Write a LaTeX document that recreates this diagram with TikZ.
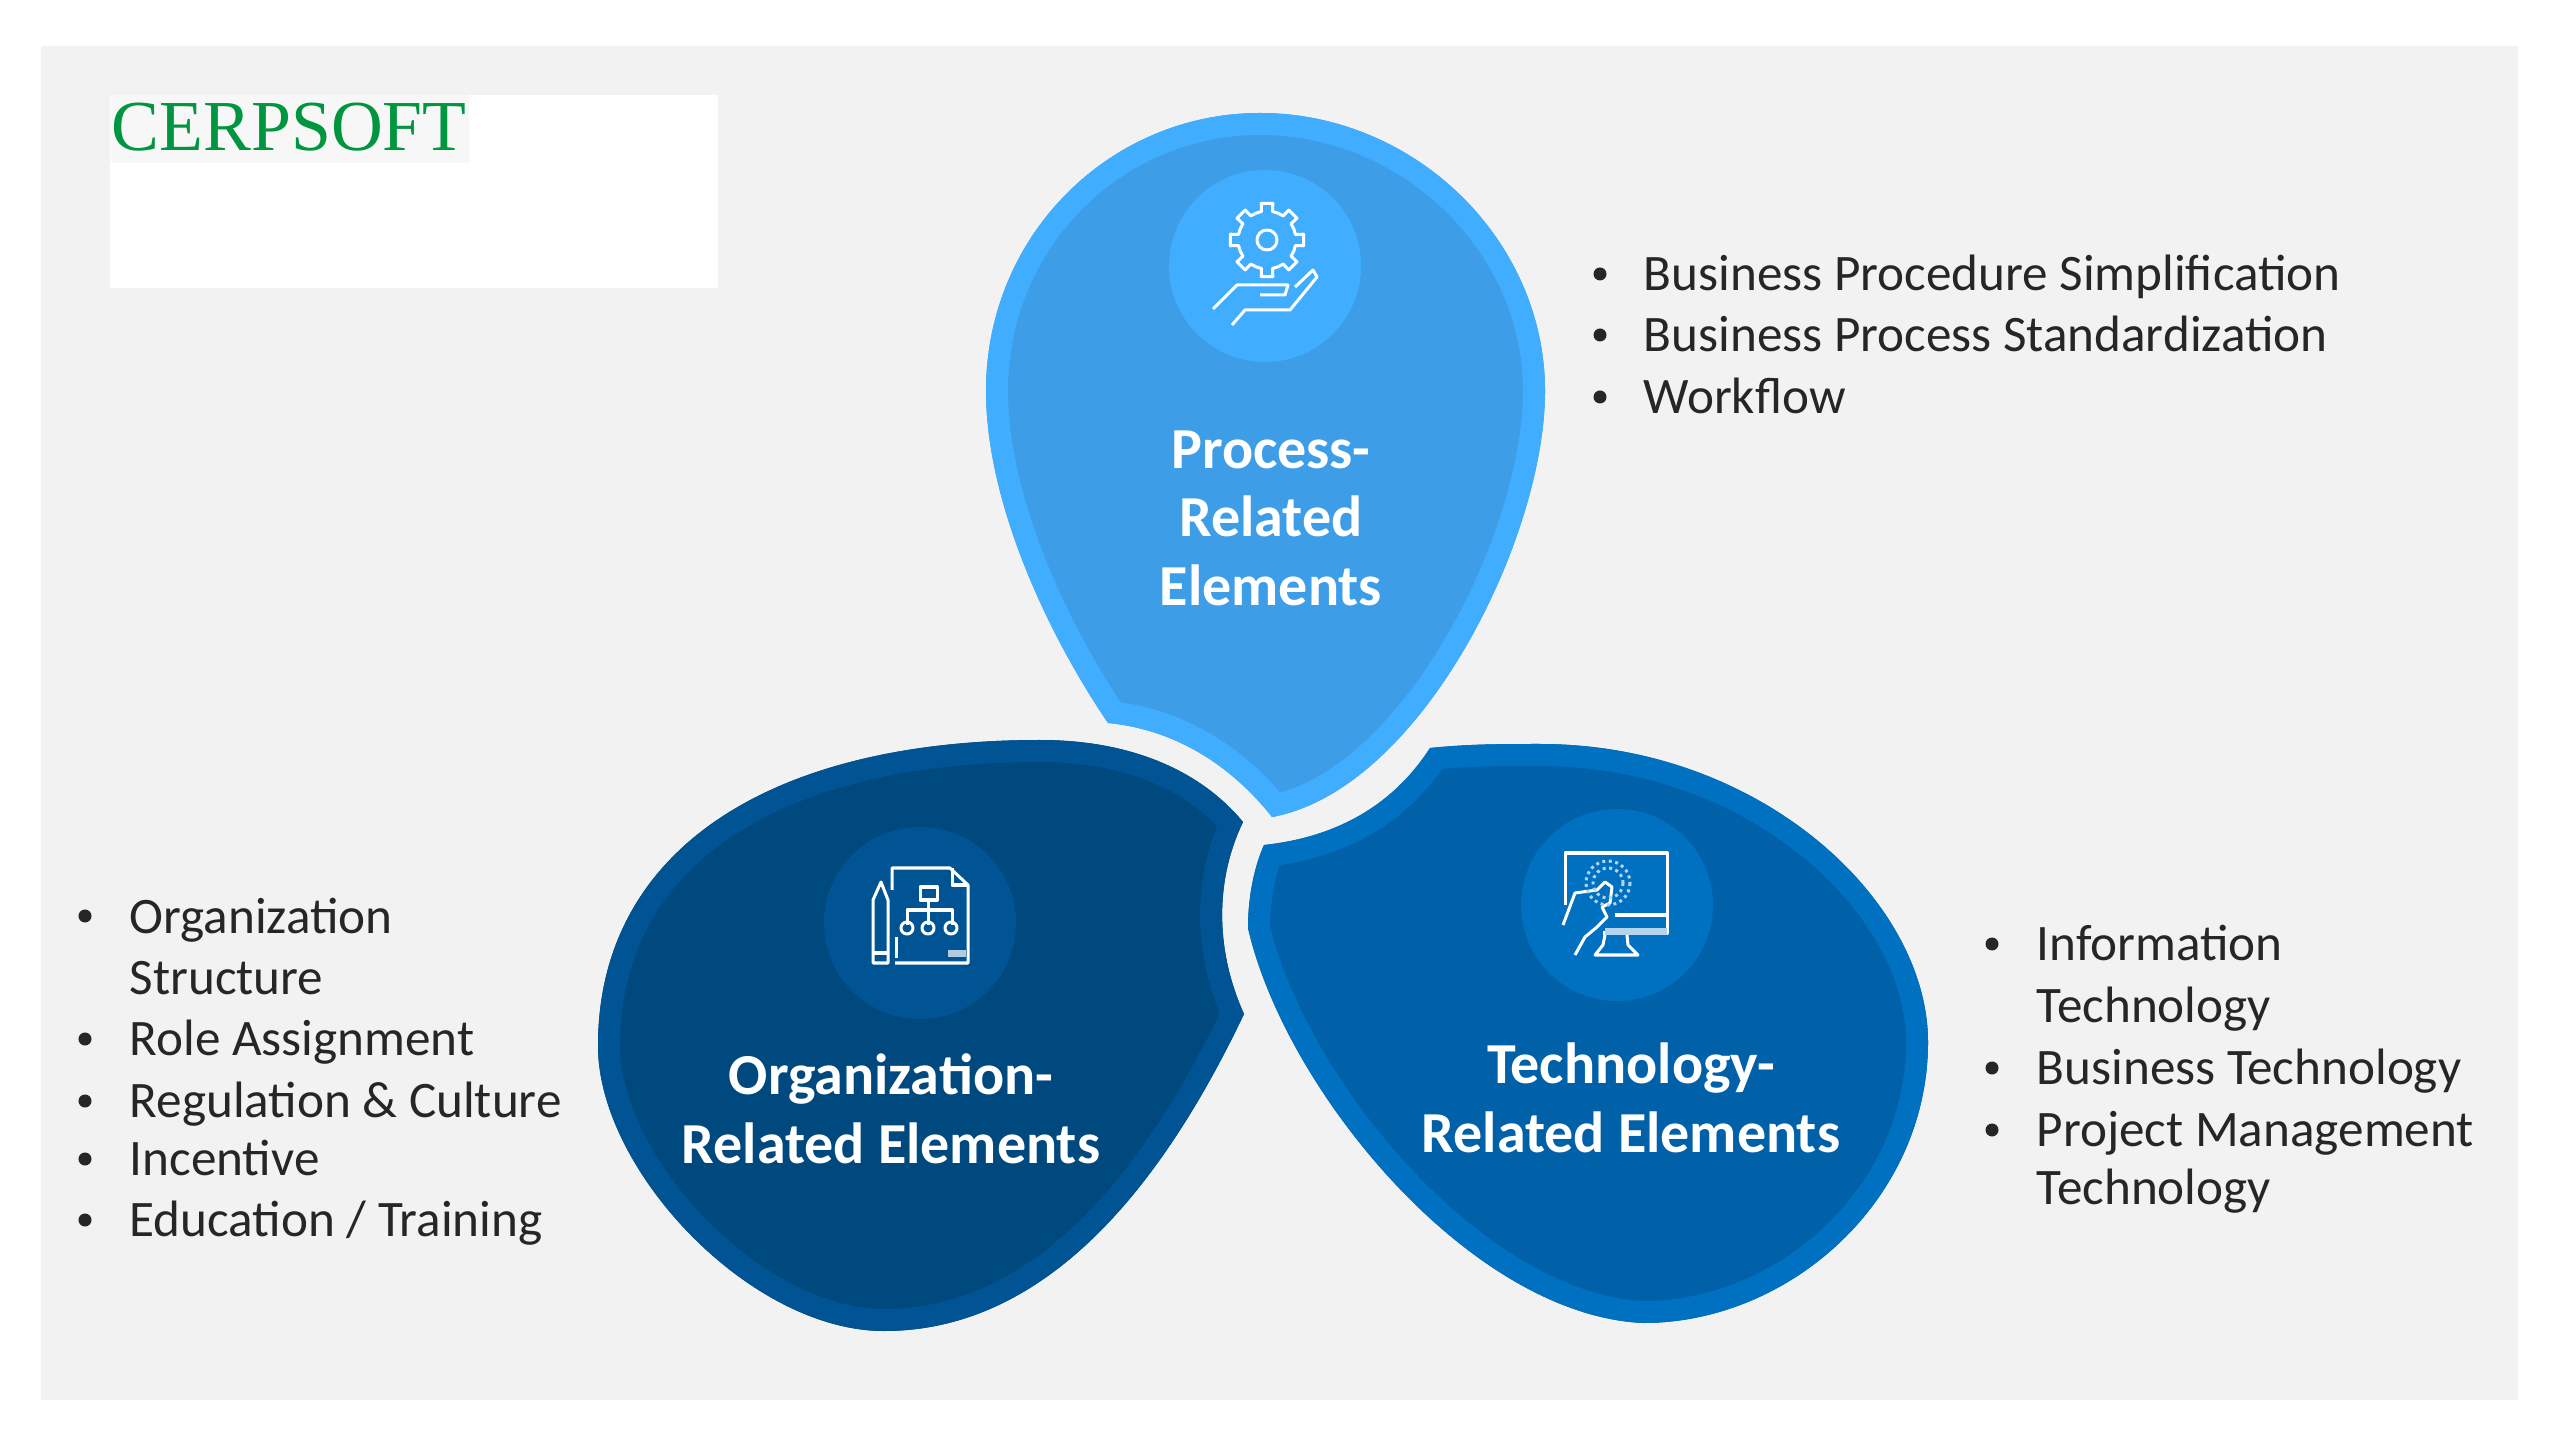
\documentclass[tikz,border=0pt]{standalone}
\usepackage{fontspec}
\setmainfont{Carlito}
\newfontfamily\logofont{Liberation Serif}
\usepackage{xcolor}
\usetikzlibrary{positioning}
\definecolor{panelgray}{HTML}{F2F2F2}
\definecolor{logogray}{HTML}{F7F7F7}
\definecolor{logogreen}{HTML}{009640}
\definecolor{ink}{HTML}{262626}
\definecolor{procrim}{HTML}{41ADFF}
\definecolor{procfill}{HTML}{3D9DE6}
\definecolor{orgrim}{HTML}{005494}
\definecolor{orgfill}{HTML}{00497F}
\definecolor{techrim}{HTML}{0070C0}
\definecolor{techfill}{HTML}{0060A8}
\newcommand{\pathproc}{(1108,723) .. controls (1045,630) and (986,500) .. (986,391)
  .. controls (986,235) and (1110,113) .. (1260,113)
  .. controls (1415,113) and (1545,240) .. (1545,391)
  .. controls (1545,540) and (1420,790) .. (1272,817)
  .. controls (1235,770) and (1180,730) .. (1108,723) -- cycle}
\newcommand{\pathorg}{(1243,822) .. controls (1215,880) and (1215,950) .. (1244,1014)
  .. controls (1165,1180) and (1050,1331) .. (884,1331)
  .. controls (750,1331) and (598,1170) .. (598,1046)
  .. controls (598,850) and (770,740) .. (1040,740)
  .. controls (1130,740) and (1200,770) .. (1243,822) -- cycle}
\newcommand{\pathtech}{(1430,748) .. controls (1470,744) and (1500,744) .. (1540,744)
  .. controls (1760,744) and (1928,900) .. (1928,1042)
  .. controls (1928,1200) and (1790,1323) .. (1643,1323)
  .. controls (1470,1315) and (1285,1090) .. (1248,928)
  .. controls (1248,895) and (1255,865) .. (1264,845)
  .. controls (1330,838) and (1390,810) .. (1430,748) -- cycle}
\newcommand{\drawpetal}[3]{%
  \fill[#2] #3;
  \begin{scope}
    \clip #3;
    \draw[#1, line width=0.44cm, line join=round] #3;
  \end{scope}}

\begin{document}
\begin{tikzpicture}[
    x=0.01cm, y=-0.01cm,
    disc/.style={circle, minimum size=1.92cm, inner sep=0pt},
    head/.style={align=center, text=white, font=\fontsize{16.5}{19.5}\selectfont\bfseries, inner sep=0pt},
    entry/.style={anchor=base west, text=ink, font=\fontsize{14.55}{17}\selectfont, inner sep=0pt},
    dot/.style={circle, fill=ink, minimum size=0.13cm, inner sep=0pt},
    iconline/.style={draw=white, line width=0.03cm, line join=round},
    iconsoft/.style={draw=white!70!techrim, line width=0.03cm}
  ]
  \path[use as bounding box] (0,0) rectangle (2560,1440);
  \fill[panelgray] (41,46) rectangle (2518,1400);
  % logo
  \fill[white] (110,95) rectangle (718,288);
  \fill[logogray] (111,95) rectangle (469,163);
  \node[anchor=base west, inner sep=0pt, text=logogreen, font=\logofont\fontsize{20.4}{22}\selectfont] (logo) at (111,151) {CERPSOFT};
  % petals
  \drawpetal{procrim}{procfill}{\pathproc}
  \drawpetal{orgrim}{orgfill}{\pathorg}
  \drawpetal{techrim}{techfill}{\pathtech}
  \node[disc, fill=procrim] (discproc) at (1265,266) {};
  \node[disc, fill=orgrim] (discorg) at (920,923) {};
  \node[disc, fill=techrim] (disctech) at (1617,905) {};
  \node[head] (headproc) at (1271,518) {Process-\\Related\\Elements};
  \node[head] (headorg) at (891,1109) {Organization-\\Related Elements};
  \node[head] (headtech) at (1631,1098) {Technology-\\Related Elements};
  % gear and hand
  \draw[iconline, shift={(1267,240)}] \foreach \a in {0,45,...,315} {
    ({\a-22.5}:29) -- ({\a-11}:29) -- ({\a-9}:37) -- ({\a+9}:37) -- ({\a+11}:29) -- ({\a+22.5}:29)};
  \draw[iconline] (1267,240) circle (10);
  \draw[iconline] (1213,309) -- (1237,285) -- (1288,285) -- (1285,295) -- (1260,295);
  \draw[iconline] (1295,287) -- (1313,270) -- (1317,277) -- (1290,310) -- (1245,310) -- (1232,325);
  % document and pencil
  \draw[iconline] (892,890) -- (892,868) -- (950,868) -- (968,885) -- (968,963) -- (895,963);
  \draw[iconline] (896,937) -- (896,958);
  \draw[iconline] (952,868) -- (952,885) -- (968,885);
  \draw[iconline] (873,900) -- (881,882) -- (888,900) -- (888,963) -- (873,963) -- cycle;
  \draw[iconline] (873,953) -- (888,953);
  \draw[iconline] (920,887) rectangle (937,900);
  \draw[iconline] (928,900) -- (928,925) (907,925) -- (907,910) -- (952,910) -- (952,925);
  \foreach \cx in {907,928,951} { \draw[iconline] (\cx,928) circle (6); }
  \fill[white!70!orgrim] (948,950) rectangle (966,957);
  % screen and hand
  \draw[iconline] (1565,905) -- (1565,853) -- (1667,853) -- (1667,933) -- (1603,933);
  \draw[iconline] (1615,915) -- (1667,915);
  \fill[white!70!techrim] (1605,928) rectangle (1667,935);
  \draw[iconline] (1605,935) -- (1603,945) -- (1595,955) -- (1638,955) -- (1628,945) -- (1627,935);
  \draw[iconline] (1563,925) -- (1575,893) -- (1597,890) -- (1605,882) -- (1612,887) -- (1610,903) -- (1602,907) -- (1607,917) -- (1597,927) -- (1585,937) -- (1575,955);
  \draw[iconsoft, densely dotted] (1608,883) circle (15);
  \draw[iconsoft, densely dotted] (1608,883) circle (22);
  % process list
  \foreach \yy in {274,335,397} { \node[dot] at (1600,\yy) {}; }
  \node[entry] (procA) at (1643,291) {Business Procedure Simplification};
  \node[entry] (procB) at (1643,352) {Business Process Standardization};
  \node[entry] (procC) at (1643,414) {Workflow};
  % organization list
  \foreach \yy in {916,1039,1101,1159,1220} { \node[dot] at (85,\yy) {}; }
  \node[entry] (orgA) at (129,933) {Organization};
  \node[entry] (orgB) at (129,994) {Structure};
  \node[entry] (orgC) at (129,1055) {Role Assignment};
  \node[entry] (orgD) at (129,1117) {Regulation \& Culture};
  \node[entry] (orgE) at (129,1175) {Incentive};
  \node[entry] (orgF) at (129,1236) {Education / Training};
  % technology list
  \foreach \yy in {944,1068,1130} { \node[dot] at (1992,\yy) {}; }
  \node[entry] (techA) at (2036,960) {Information};
  \node[entry] (techB) at (2036,1022) {Technology};
  \node[entry] (techC) at (2036,1084) {Business Technology};
  \node[entry] (techD) at (2036,1146) {Project Management};
  \node[entry] (techE) at (2036,1204) {Technology};
\end{tikzpicture}
\end{document}
